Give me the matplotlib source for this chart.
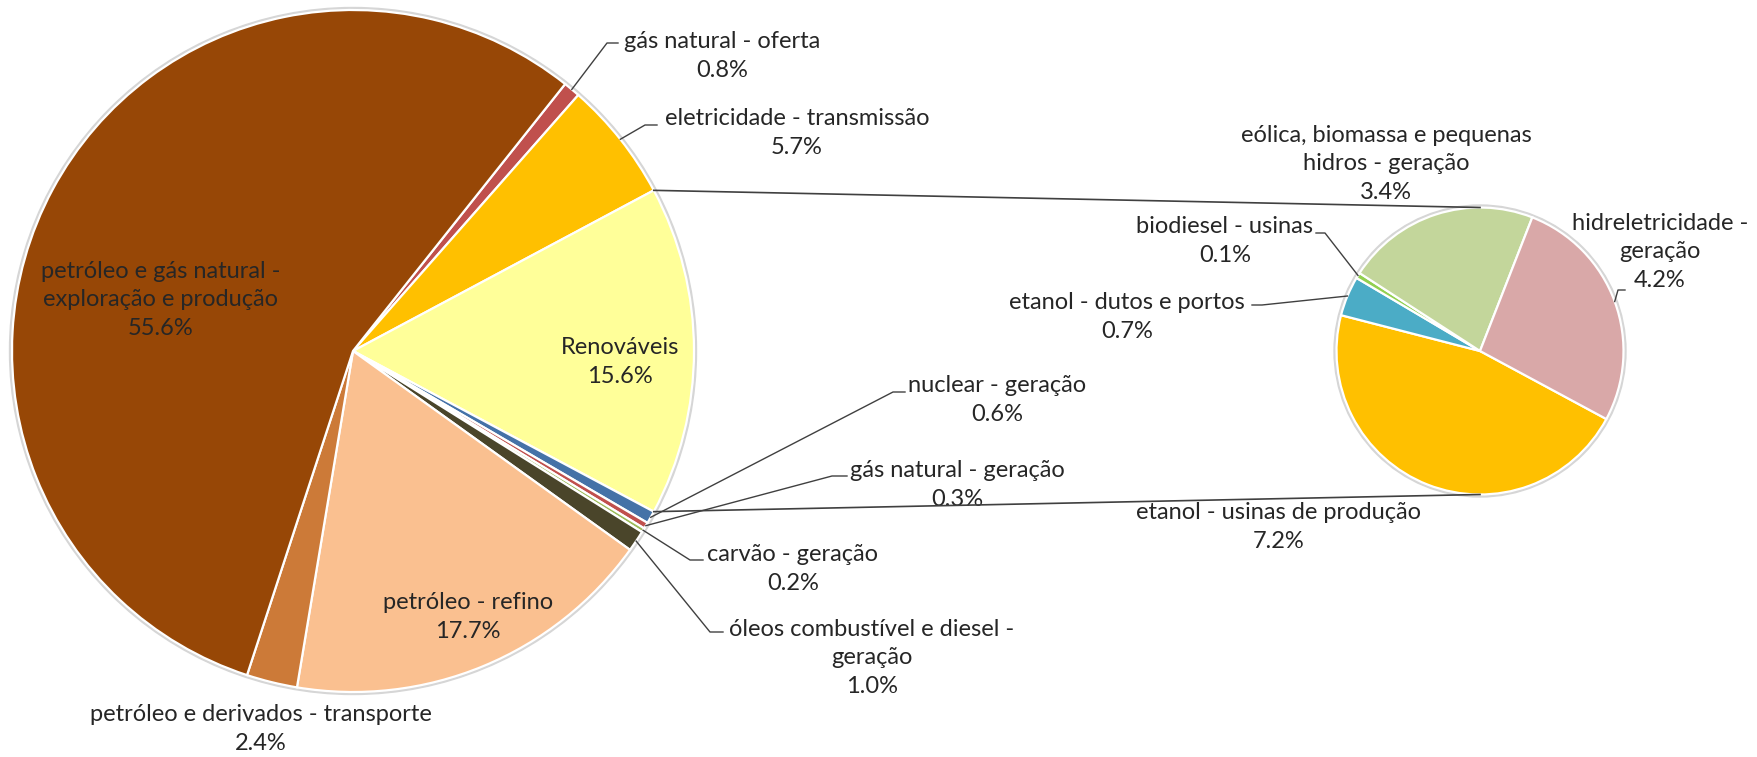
import matplotlib
matplotlib.use('Agg')
from matplotlib import pyplot as plt
from matplotlib.patches import Circle
import numpy as np

# main pie, slices listed clockwise
main_names = ['gás natural - oferta', 'eletricidade - transmissão', 'Renováveis',
              'nuclear - geração', 'gás natural - geração', 'carvão - geração',
              'óleos combustível e diesel -\ngeração', 'petróleo - refino',
              'petróleo e derivados - transporte',
              'petróleo e gás natural -\nexploração e produção']
main_values = [0.8, 5.7, 15.6, 0.6, 0.3, 0.2, 1.0, 17.7, 2.4, 55.6]
main_colors = ['#C0504D', '#FFC000', '#FFFF99', '#4572A7', '#C0504D', '#9BBB59',
               '#4A452A', '#FAC090', '#CC7A38', '#974706']

# second pie: what "Renováveis" is made of
sub_names = ['etanol - usinas de produção', 'etanol - dutos e portos', 'biodiesel - usinas',
             'eólica, biomassa e pequenas\nhidros - geração', 'hidreletricidade -\ngeração']
sub_values = [7.2, 0.7, 0.1, 3.4, 4.2]
sub_colors = ['#FFC000', '#4BACC6', '#92D050', '#C3D69B', '#D9A8A8']

W, H = 1758, 757
SPLIT = 2  # index of the slice that is broken out

# layout, in pixels from the top-left corner
main_c, main_r = (353, 351), 341
sub_c, sub_r = (1480, 351), 143.5
main_label_pos = [(722, 56), (797, 133), (620, 362), (997, 400), (957, 485), (793, 569),
                  (872, 658), (468, 617), (261, 729), (161, 300)]
main_leaders = {0: [(607, 43), (618, 43)], 1: [(645, 125), (657, 125)],
                3: [(893, 392), (905, 392)], 4: [(832, 476), (847, 476)],
                5: [(690, 560), (703, 560)], 6: [(710, 632), (723, 632)]}
sub_label_pos = [(1279, 527), (1127, 317), (1225, 241), (1386, 164), (1660, 252)]
sub_leaders = {1: [(1262, 305), (1252, 305)], 2: [(1325, 233), (1316, 233)],
               4: [(1618, 290), (1625, 290)]}

TXT = '#262626'
LINE = '#404040'
FONT = dict(family='Lato', size=17, color=TXT, linespacing=1.45)


def px(p):
    return (p[0], H - p[1])


def edge_point(w, ang=None):
    if ang is None:
        ang = 0.5 * (w.theta1 + w.theta2)
    a = np.deg2rad(ang)
    return (w.center[0] + w.r * np.cos(a), w.center[1] + w.r * np.sin(a))


fig = plt.figure(figsize=(W / 100, H / 100), dpi=100)
ax = fig.add_axes([0, 0, 1, 1])

# soft outline behind each pie
for c, r in [(main_c, main_r), (sub_c, sub_r)]:
    ax.add_patch(Circle(px(c), r + 2.5, color='#d6d6d6', zorder=0))

before = sum(main_values[:SPLIT]) + main_values[SPLIT] / 2
main_start = before / sum(main_values) * 360
wedges, _ = ax.pie(main_values, colors=main_colors, startangle=main_start,
                   counterclock=False, center=px(main_c), radius=main_r,
                   wedgeprops=dict(edgecolor='white', linewidth=1.6))
sub_wedges, _ = ax.pie(sub_values, colors=sub_colors, startangle=-28.3,
                       counterclock=False, center=px(sub_c), radius=sub_r,
                       wedgeprops=dict(edgecolor='white', linewidth=1.6))

# series lines between the two pies
w = wedges[SPLIT]
top = edge_point(w, w.theta2)
bot = edge_point(w, w.theta1)
ax.plot([top[0], px(sub_c)[0]], [top[1], px(sub_c)[1] + sub_r], color=LINE, lw=1.2, zorder=5)
ax.plot([bot[0], px(sub_c)[0]], [bot[1], px(sub_c)[1] - sub_r], color=LINE, lw=1.2, zorder=5)

for names, values, wl, pos, leaders in [
        (main_names, main_values, wedges, main_label_pos, main_leaders),
        (sub_names, sub_values, sub_wedges, sub_label_pos, sub_leaders)]:
    for i, (n, v) in enumerate(zip(names, values)):
        ax.text(*px(pos[i]), '{}\n{:.1f}%'.format(n, v), ha='center', va='center',
                multialignment='center', zorder=4, **FONT)
        if i in leaders:
            pts = [edge_point(wl[i])] + [px(p) for p in leaders[i]]
            xs, ys = zip(*pts)
            ax.plot(xs, ys, color=LINE, lw=1.0, zorder=5)

ax.set_xlim(0, W)
ax.set_ylim(0, H)
ax.set_aspect('equal')
ax.axis('off')
fig.savefig('out.png', dpi=100, facecolor='white')
